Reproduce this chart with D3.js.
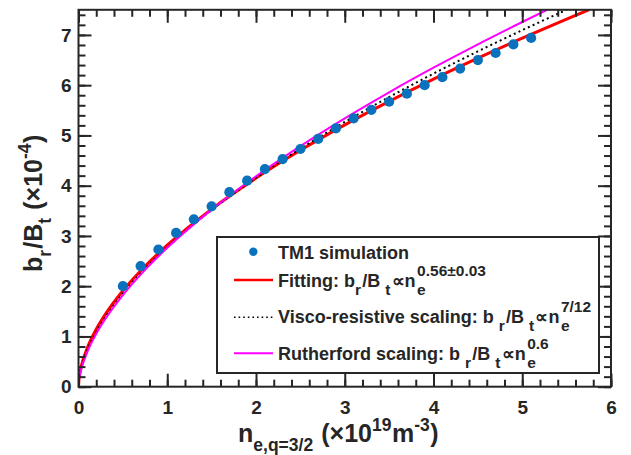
<!DOCTYPE html>
<html><head><meta charset="utf-8">
<script src="https://cdn.jsdelivr.net/npm/d3@7"></script>
<style>
html,body{margin:0;padding:0;background:#fff;}
svg text{font-family:"Liberation Sans",Arial,Helvetica,sans-serif;font-weight:bold;fill:#262626;white-space:pre;}
</style></head><body>
<svg id="chart" width="631" height="455"></svg>
<script>
// ---- data ----
const simX = [0.5,0.7,0.9,1.1,1.3,1.5,1.7,1.9,2.1,2.3,2.5,2.7,2.9,3.1,3.3,3.5,3.7,3.9,4.1,4.3,4.5,4.7,4.9,5.1];
const simY = [2.00,2.40,2.73,3.06,3.33,3.59,3.87,4.10,4.33,4.53,4.73,4.93,5.14,5.34,5.51,5.67,5.83,6.00,6.16,6.33,6.50,6.64,6.81,6.94];

const fitX = [0,0.005,0.02,0.05,0.1,0.2,0.3,0.5,0.75,1,1.5,2,2.5,3,3.5,4,4.5,5,5.5,5.75];
const fitY = [0,0.145,0.315,0.526,0.776,1.143,1.435,1.910,2.397,2.816,3.534,4.151,4.704,5.210,5.679,6.121,6.538,6.935,7.316,7.5];

const viscoX = [0,0.005,0.02,0.05,0.1,0.2,0.3,0.5,0.75,1,1.5,2,2.5,3,3.5,4,4.5,5,5.5];
const viscoY = [0,0.126,0.283,0.483,0.724,1.086,1.375,1.852,2.346,2.775,3.515,4.158,4.736,5.268,5.763,6.230,6.673,7.095,7.501];

const ruthX = [0,0.005,0.02,0.05,0.1,0.2,0.3,0.5,0.75,1,1.5,2,2.5,3,3.5,4,4.5,5,5.28];
const ruthY = [0,0.115,0.264,0.458,0.694,1.052,1.342,1.823,2.325,2.763,3.524,4.188,4.788,5.341,5.859,6.348,6.813,7.257,7.5];

const xTicks = [0,1,2,3,4,5,6];
const yTicks = [0,1,2,3,4,5,6,7];
const xMinor = d3.range(0, 6.001, 0.2);
const yMinor = d3.range(0, 7.501, 0.2);

const legendLabels = ["TM1 simulation", "Fitting", "Visco-resistive scaling", "Rutherford scaling"];

// ---- layout ----
const svg = d3.select("#chart");
const L = 78.5, R = 611, T = 9.8, B = 386.7;
const x = d3.scaleLinear().domain([0,6]).range([L,R]);
const y = d3.scaleLinear().domain([0,7.5]).range([B,T]);
const ink = "#262626";
const blue = "#0a72bd";

svg.append("defs").append("clipPath").attr("id","clip")
  .append("rect").attr("x",L).attr("y",T).attr("width",R-L).attr("height",B-T);

const plot = svg.append("g").attr("clip-path","url(#clip)");
const line = d3.line().x(d=>x(d[0])).y(d=>y(d[1])).curve(d3.curveMonotoneX);

plot.append("path").datum(d3.zip(fitX,fitY)).attr("d",line)
  .attr("fill","none").attr("stroke","#ff0000").attr("stroke-width",3);
plot.append("path").datum(d3.zip(viscoX,viscoY)).attr("d",line)
  .attr("fill","none").attr("stroke","#000").attr("stroke-width",2).attr("stroke-dasharray","2,3.2");
plot.append("path").datum(d3.zip(ruthX,ruthY)).attr("d",line)
  .attr("fill","none").attr("stroke","#ff00ff").attr("stroke-width",2);
plot.selectAll("circle.sim").data(d3.zip(simX,simY)).enter().append("circle")
  .attr("class","sim").attr("cx",d=>x(d[0])).attr("cy",d=>y(d[1])).attr("r",5.1).attr("fill",blue);

// ---- rich text helper ----
function rich(g, parts, fs, ss, off) {
  off = off || {sub:8, sup:-10, ssub:8.5, ssup:-11};
  let cx = 0;
  for (const p of parts) {
    if (typeof p === "string") {
      const t = g.append("text").attr("x",cx).attr("y",0).style("font-size",fs+"px").text(p);
      cx += t.node().getComputedTextLength();
    } else if (p.sub !== undefined && p.sup !== undefined) {
      cx += 1.5;
      const a = g.append("text").attr("x",cx).attr("y",off.ssub).style("font-size",ss+"px").text(p.sub);
      const b = g.append("text").attr("x",cx).attr("y",off.ssup).style("font-size",ss+"px").text(p.sup);
      cx += Math.max(a.node().getComputedTextLength(), b.node().getComputedTextLength());
    } else if (p.sub !== undefined) {
      const a = g.append("text").attr("x",cx).attr("y",off.sub).style("font-size",ss+"px").text(p.sub);
      cx += a.node().getComputedTextLength() + 1.2;
    } else if (p.sup !== undefined) {
      const a = g.append("text").attr("x",cx).attr("y",off.sup).style("font-size",ss+"px").text(p.sup);
      cx += a.node().getComputedTextLength() + 0.5;
    }
  }
  return cx;
}

// ---- legend ----
const leg = svg.append("g");
leg.append("rect").attr("x",217).attr("y",237).attr("width",382).attr("height",136)
  .attr("fill","#fff").attr("stroke",ink).attr("stroke-width",2);
const rowY = [251.7, 280, 317.3, 353.3];
leg.append("circle").attr("cx",253.3).attr("cy",rowY[0]).attr("r",4.2).attr("fill",blue);
leg.append("line").attr("x1",234).attr("x2",273).attr("y1",rowY[1]).attr("y2",rowY[1]).attr("stroke","#ff0000").attr("stroke-width",2.4);
leg.append("line").attr("x1",234).attr("x2",273).attr("y1",rowY[2]).attr("y2",rowY[2]).attr("stroke","#000").attr("stroke-width",1.6).attr("stroke-dasharray","1.6,3");
leg.append("line").attr("x1",234).attr("x2",273).attr("y1",rowY[3]).attr("y2",rowY[3]).attr("stroke","#ff00ff").attr("stroke-width",2);

rich(leg.append("g").attr("transform",`translate(278,${rowY[0]+6.8})`), [legendLabels[0]], 18, 15.5);
rich(leg.append("g").attr("transform",`translate(278,${rowY[1]+6.7})`),
  [legendLabels[1]+": b", {sub:"r"}, "/B ", {sub:"t"}, "\u221Dn", {sub:"e", sup:"0.56\u00B10.03"}], 18, 15.5);
rich(leg.append("g").attr("transform",`translate(278,${rowY[2]+5.5})`),
  [legendLabels[2]+": b ", {sub:"r"}, "/B ", {sub:"t"}, "\u221Dn", {sub:"e", sup:"7/12"}], 18, 15.5);
rich(leg.append("g").attr("transform",`translate(278,${rowY[3]+6.5})`),
  [legendLabels[3]+": b ", {sub:"r"}, "/B ", {sub:"t"}, "\u221Dn", {sub:"e", sup:"0.6"}], 18, 15.5);

// ---- axes ----
function styleAxis(g){
  g.select(".domain").remove();
  g.selectAll("line").attr("stroke",ink).attr("stroke-width",2);
  g.attr("font-family",null).attr("font-size",null);
  g.selectAll("text").style("font-size","19px").attr("fill",ink);
}
svg.append("g").attr("transform",`translate(0,${B})`)
  .call(d3.axisBottom(x).tickValues(xMinor).tickSize(-7).tickFormat("")).call(styleAxis);
svg.append("g").attr("transform",`translate(0,${B})`)
  .call(d3.axisBottom(x).tickValues(xTicks).tickSize(-13).tickPadding(13.5).tickFormat(d3.format("d"))).call(styleAxis);
svg.append("g").attr("transform",`translate(0,${T})`)
  .call(d3.axisTop(x).tickValues(xMinor).tickSize(-7).tickFormat("")).call(styleAxis);
svg.append("g").attr("transform",`translate(0,${T})`)
  .call(d3.axisTop(x).tickValues(xTicks).tickSize(-13).tickFormat("")).call(styleAxis);
svg.append("g").attr("transform",`translate(${L},0)`)
  .call(d3.axisLeft(y).tickValues(yMinor).tickSize(-7).tickFormat("")).call(styleAxis);
svg.append("g").attr("transform",`translate(${L},0)`)
  .call(d3.axisLeft(y).tickValues(yTicks).tickSize(-13).tickPadding(7).tickFormat(d3.format("d"))).call(styleAxis);
svg.append("g").attr("transform",`translate(${R},0)`)
  .call(d3.axisRight(y).tickValues(yMinor).tickSize(-7).tickFormat("")).call(styleAxis);
svg.append("g").attr("transform",`translate(${R},0)`)
  .call(d3.axisRight(y).tickValues(yTicks).tickSize(-13).tickFormat("")).call(styleAxis);

svg.append("rect").attr("x",L).attr("y",T).attr("width",R-L).attr("height",B-T)
  .attr("fill","none").attr("stroke",ink).attr("stroke-width",2);

// ---- axis titles ----
const titleOff = {sub:9, sup:-11, ssub:9, ssup:-11};
rich(svg.append("g").attr("transform","translate(238,441.7)"),
  ["n", {sub:"e,q=3/2"}, " (\u00D710", {sup:"19"}, "m", {sup:"-3"}, ")"], 25, 17.5, titleOff);
rich(svg.append("g").attr("transform","translate(41.7,272) rotate(-90)"),
  ["b", {sub:"r"}, "/B", {sub:"t"}, " (\u00D710", {sup:"-4"}, ")"], 25, 17.5, titleOff);
</script>
</body></html>
